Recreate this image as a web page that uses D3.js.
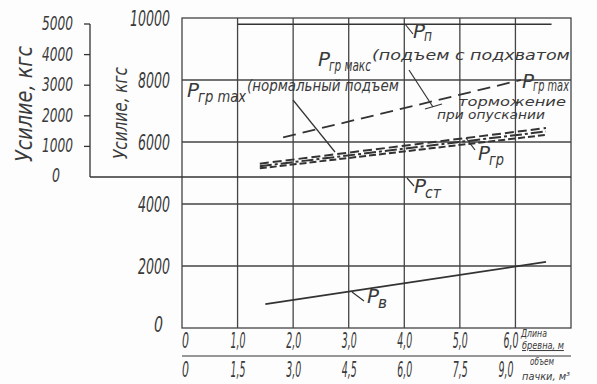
<!DOCTYPE html>
<html lang="ru">
  <head>
    <meta charset="UTF-8">
    <title>Усилие</title>
    <style>
body{ margin:0; background:#fff; }
svg{ display:block; background:#fdfdfd; }
text{ font-family:"DejaVu Sans Condensed","DejaVu Sans",sans-serif; font-style:italic; fill:#3a3a3a; }
    </style>
  </head>
  <body>
    <script src="https://cdn.jsdelivr.net/npm/d3@7/dist/d3.min.js"></script>
    <script>
// tick labels
var lenTicks = [0, 1, 2, 3, 4, 5, 6];
var lenLabels = ["0", "1,0", "2,0", "3,0", "4,0", "5,0", "6,0"];
var volLabels = ["0", "1,5", "3,0", "4,5", "6,0", "7,5", "9,0"];
var forceTicks = [0, 2000, 4000, 6000, 8000, 10000];
var force2Ticks = [0, 1000, 2000, 3000, 4000, 5000];

// curves: [length m, force kgs]
var pP = [[1.0, 9800], [6.65, 9800]];
var pSt = [[0, 4870], [7, 4870]];
var pMaxPick = [[1.82, 6150], [6.1, 8000]];
var pBrake = [[1.4, 5300], [6.55, 6450]];
var pGr = [[1.4, 5220], [6.55, 6340]];
var pNorm = [[1.4, 5150], [6.55, 6230]];
var pV = [[1.5, 770], [6.55, 2130]];

var width = 597, height = 384, ink = "#333";

var svg = d3.select("body").append("svg")
    .attr("width", width)
    .attr("height", height);

var x = d3.scaleLinear().domain([0, 7]).range([182, 571]);
var y = d3.scaleLinear().domain([0, 10000]).range([328, 18]);
var y2 = d3.scaleLinear().domain([0, 5000]).range([177, 24]);

// narrow drafting text: squeezed horizontally to a given width
function txt(px, py, s, size, w){
    var t = svg.append("text").attr("font-size", size).text(s);
    var sx = 1;
    if(w) sx = w / t.node().getComputedTextLength();
    t.attr("transform", "translate(" + px + "," + py + ") scale(" + sx + ",1)");
    return t;
}

// grid
var grid = svg.append("g").attr("stroke", "#444").attr("stroke-width", 1.3);
grid.selectAll("line.v").data([1, 2, 3, 4, 5, 6]).enter().append("line")
    .attr("x1", function(d){ return x(d); }).attr("x2", function(d){ return x(d); })
    .attr("y1", y(10000)).attr("y2", y(0));
grid.selectAll("line.h").data([2000, 4000, 6000, 8000]).enter().append("line")
    .attr("x1", x(0)).attr("x2", x(7))
    .attr("y1", function(d){ return y(d); }).attr("y2", function(d){ return y(d); });
grid.append("rect")
    .attr("x", x(0)).attr("y", y(10000))
    .attr("width", x(7) - x(0)).attr("height", y(0) - y(10000))
    .attr("fill", "none");

// main axis labels
forceTicks.forEach(function(d){
    var w = d == 0 ? 9 : (d >= 10000 ? 40 : 32);
    var right = d == 0 ? 163 : 170;
    txt(right - w, y(d) + (d == 0 ? 4 : 8), String(d), 22, w);
});

// secondary axis
var ax2 = svg.append("g").attr("stroke", ink).attr("stroke-width", 1.3);
ax2.append("line").attr("x1", 90).attr("x2", 90).attr("y1", y2(5000)).attr("y2", y2(0));
ax2.append("line").attr("x1", 90).attr("x2", x(0)).attr("y1", y2(0)).attr("y2", y2(0));
ax2.selectAll("line.t").data(force2Ticks.slice(1)).enter().append("line")
    .attr("x1", 84).attr("x2", 90)
    .attr("y1", function(d){ return y2(d); }).attr("y2", function(d){ return y2(d); });
force2Ticks.forEach(function(d){
    if(d == 0) txt(52, y2(d) + 5, "0", 20, 8);
    else txt(42, y2(d) + 6, String(d), 20, 31);
});

svg.append("text")
    .attr("transform", "translate(32,104) rotate(-90)")
    .attr("text-anchor", "middle").attr("font-size", 23)
    .attr("textLength", 116).attr("lengthAdjust", "spacingAndGlyphs")
    .text("Усилие, кгс");
svg.append("text")
    .attr("transform", "translate(127,113) rotate(-90)")
    .attr("text-anchor", "middle").attr("font-size", 20)
    .attr("textLength", 92).attr("lengthAdjust", "spacingAndGlyphs")
    .text("Усилие, кгс");

// x axis rows (labels centred on the grid line, last ones pushed left of the unit captions)
lenTicks.forEach(function(d, i){
    var w = i == 0 ? 7 : 15;
    var left = i == 0 ? x(d) : x(d) - 7;
    txt(i == 6 ? left - 5 : left, 348, lenLabels[i], 21, w);
    txt(i == 6 ? left - 10 : left, 377, volLabels[i], 21, w);
});
svg.append("line").attr("x1", x(0)).attr("x2", x(7)).attr("y1", 356).attr("y2", 356)
    .attr("stroke", ink).attr("stroke-width", 1.2);
txt(521, 337, "Длина", 10, 26);
txt(522, 349, "бревна, м", 10, 42).attr("text-decoration", "underline");
txt(530, 365, "объем", 10, 24);
txt(522, 380, "пачки, м³", 11, 48);

// curves
var line = d3.line().x(function(d){ return x(d[0]); }).y(function(d){ return y(d[1]); });
function curve(data, dash, w){
    svg.append("path").datum(data)
        .attr("d", line)
        .attr("fill", "none")
        .attr("stroke", ink)
        .attr("stroke-width", w)
        .attr("stroke-dasharray", dash);
}
curve(pP, null, 1.6);
curve(pSt, null, 1.6);
curve(pMaxPick, "13,7", 1.8);
curve(pBrake, "9,4", 2);
curve(pGr, "12,3,3,3", 2);
curve(pNorm, "7,3", 2);
curve(pV, null, 1.8);

// leaders
var leaders = [
    [293, 100, 335, 152], [409, 70, 433, 107], [425, 109, 442, 104],
    [405, 24, 413, 34], [466, 138, 475, 150], [407, 178, 414, 186], [352, 292, 364, 301]
];
svg.selectAll("line.ld").data(leaders).enter().append("line")
    .attr("x1", function(d){ return d[0]; }).attr("y1", function(d){ return d[1]; })
    .attr("x2", function(d){ return d[2]; }).attr("y2", function(d){ return d[3]; })
    .attr("stroke", ink).attr("stroke-width", 1.2);

// labels: P with subscript, optional tail text
function plabel(px, py, sub, subW, tail, tailW, tailSize, subDy){
    txt(px, py, "P", 20, 12);
    txt(px + 11, py + (subDy || 5), sub, 16, subW);
    if(tail) txt(px + 12 + subW, py - 6, tail, tailSize, tailW);
}
plabel(187, 97, "гр max", 48, "(нормальный  подъем", 152, 16);
plabel(318, 66, "гр макс", 42, "(подъем с подхватом", 198, 14);
plabel(413, 38, "п", 8, null, 0, 0, 3);
plabel(522, 88, "гр max", 36, null, 0, 0, 3);
txt(458, 106, "торможение", 12, 108);
txt(437, 119, "при опускании", 12, 108);
plabel(478, 160, "гр", 15);
plabel(414, 193, "ст", 16);
plabel(367, 303, "в", 9);
    </script>
  </body>
</html>
